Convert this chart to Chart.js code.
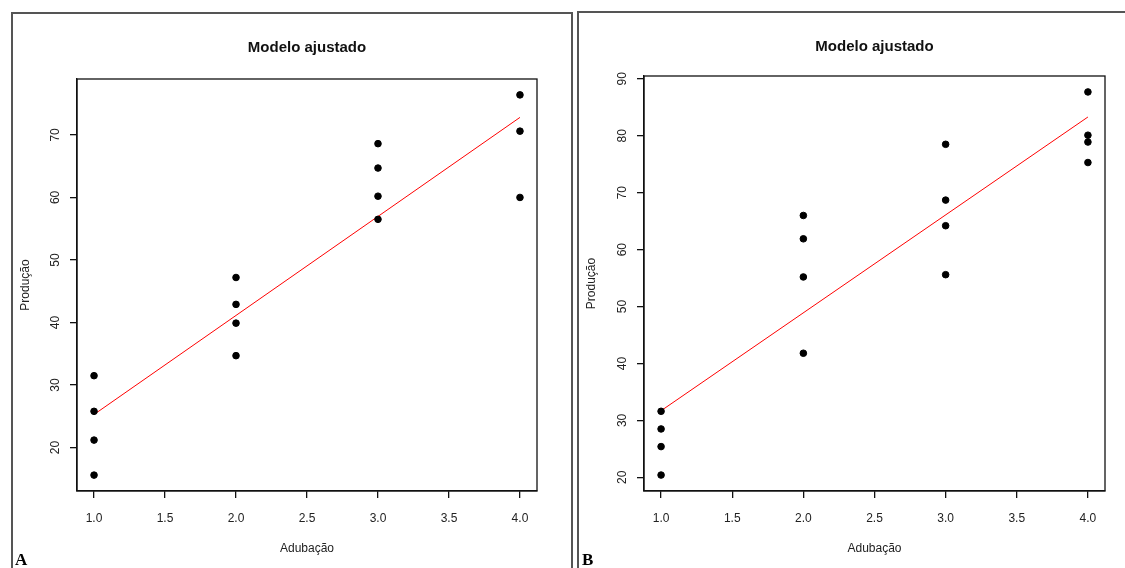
<!DOCTYPE html>
<html>
<head>
<meta charset="utf-8">
<title>Modelo ajustado</title>
<script src="https://cdn.jsdelivr.net/npm/chart.js"></script>
<style>
  body { margin: 0; background: white; width: 1125px; height: 568px; overflow: hidden; position: relative; font-family: "Liberation Sans", Arial, sans-serif; }
  .panel { position: absolute; border-left: 2px solid #555; border-top: 2px solid #555; box-sizing: border-box; }
  #panelA { left: 11px; top: 12px; width: 562px; height: 560px; border-right: 2px solid #555; }
  #panelB { left: 577px; top: 11px; width: 552px; height: 560px; }
  .panel canvas { position: absolute; left: 0; top: 0; }
  .tag { position: absolute; font: bold 17px "Liberation Serif", "Times New Roman", serif; color: #000; }
</style>
</head>
<body>
<div class="panel" id="panelA"><canvas id="chartA" width="560" height="556"></canvas></div>
<div class="panel" id="panelB"><canvas id="chartB" width="550" height="557"></canvas></div>
<div class="tag" style="left:15px; top:550px;">A</div>
<div class="tag" style="left:582px; top:550px;">B</div>
<script>
// Panel A data (Adubação x Produção)
const adubacaoA = [1, 1, 1, 1, 2, 2, 2, 2, 3, 3, 3, 3, 4, 4, 4];
const producaoA = [31.5, 25.8, 21.2, 15.6, 47.2, 42.9, 39.9, 34.7, 68.6, 64.7, 60.2, 56.5, 76.4, 70.6, 60.0];
const ajusteXA = [1, 4];
const ajusteYA = [25.3, 72.8];

// Panel B data
const adubacaoB = [1, 1, 1, 1, 2, 2, 2, 2, 3, 3, 3, 3, 4, 4, 4, 4];
const producaoB = [31.6, 28.5, 25.4, 20.4, 66.0, 61.9, 55.2, 41.8, 78.5, 68.7, 64.2, 55.6, 87.7, 80.1, 78.9, 75.3];
const ajusteXB = [1, 4];
const ajusteYB = [31.7, 83.3];

const xTicks = [1.0, 1.5, 2.0, 2.5, 3.0, 3.5, 4.0];
const yTicksA = [20, 30, 40, 50, 60, 70];
const yTicksB = [20, 30, 40, 50, 60, 70, 80, 90];

const TXT = '#222';
const FONT = '"Liberation Sans", Arial, sans-serif';

// R-style box, rotated y tick labels, titles
const rStyle = {
  id: 'rStyle',
  afterDraw(chart, args, opts) {
    const ctx = chart.ctx;
    const a = chart.chartArea;
    const ys = chart.scales.y;
    ctx.save();
    ctx.strokeStyle = '#111';
    ctx.lineWidth = 1.3;
    ctx.strokeRect(a.left, a.top, a.right - a.left, a.bottom - a.top);
    // y tick labels rotated
    ctx.fillStyle = TXT;
    ctx.font = '12px ' + FONT;
    ctx.textAlign = 'center';
    ctx.textBaseline = 'middle';
    ys.ticks.forEach(t => {
      const py = ys.getPixelForValue(t.value);
      ctx.save();
      ctx.translate(a.left - 21, py);
      ctx.rotate(-Math.PI / 2);
      ctx.fillText(String(t.value), 0, 0);
      ctx.restore();
    });
    // main title
    ctx.font = 'bold 15px ' + FONT;
    ctx.fillStyle = '#111';
    ctx.fillText(opts.title, (a.left + a.right) / 2, opts.titleY);
    // axis titles
    ctx.font = '12px ' + FONT;
    ctx.fillStyle = TXT;
    ctx.fillText(opts.xTitle, (a.left + a.right) / 2, opts.xTitleY);
    ctx.save();
    ctx.translate(opts.yTitleX, (a.top + a.bottom) / 2);
    ctx.rotate(-Math.PI / 2);
    ctx.fillText(opts.yTitle, 0, 0);
    ctx.restore();
    ctx.restore();
  }
};

function makeChart(id, xs, ys, fx, fy, yTicks, cfg) {
  const pts = xs.map((x, i) => ({ x: x, y: ys[i] }));
  const fit = fx.map((x, i) => ({ x: x, y: fy[i] }));
  return new Chart(document.getElementById(id), {
    type: 'scatter',
    data: {
      datasets: [
        {
          label: 'Ajuste',
          type: 'line',
          data: fit,
          borderColor: 'rgb(255, 0, 0)',
          borderWidth: 1,
          pointRadius: 0,
          fill: false,
          order: 2
        },
        {
          label: 'Produção',
          data: pts,
          backgroundColor: '#000',
          borderColor: '#000',
          pointRadius: 3.3,
          pointHoverRadius: 3.3,
          order: 1
        }
      ]
    },
    options: {
      responsive: false,
      animation: false,
      events: [],
      layout: { padding: { top: cfg.top, right: cfg.right, bottom: 0, left: 0 } },
      plugins: {
        legend: { display: false },
        tooltip: { enabled: false },
        rStyle: cfg.text
      },
      scales: {
        x: {
          type: 'linear',
          min: cfg.xmin, max: cfg.xmax,
          afterBuildTicks: s => { s.ticks = xTicks.map(v => ({ value: v })); },
          afterFit: s => { s.height = cfg.xh; },
          border: { display: true, color: '#111', width: 1.3 },
          grid: { drawOnChartArea: false, drawTicks: true, tickLength: 7, color: '#111', lineWidth: 1.3 },
          ticks: { color: TXT, font: { family: FONT, size: 12 }, padding: 13, maxRotation: 0,
                   callback: v => Number(v).toFixed(1) }
        },
        y: {
          type: 'linear',
          min: cfg.ymin, max: cfg.ymax,
          afterBuildTicks: s => { s.ticks = yTicks.map(v => ({ value: v })); },
          afterFit: s => { s.width = cfg.yw; },
          border: { display: true, color: '#111', width: 1.3 },
          grid: { drawOnChartArea: false, drawTicks: true, tickLength: 7, color: '#111', lineWidth: 1.3 },
          ticks: { display: false }
        }
      }
    },
    plugins: [rStyle]
  });
}

makeChart('chartA', adubacaoA, producaoA, ajusteXA, ajusteYA, yTicksA, {
  top: 65, right: 36, xh: 79, yw: 64,
  xmin: 0.88, xmax: 4.12, ymin: 13.06, ymax: 78.94,
  text: { title: 'Modelo ajustado', titleY: 34, xTitle: 'Adubação', xTitleY: 535, yTitle: 'Produção', yTitleX: 13 }
});

makeChart('chartB', adubacaoB, producaoB, ajusteXB, ajusteYB, yTicksB, {
  top: 63, right: 24, xh: 79, yw: 65,
  xmin: 0.88, xmax: 4.12, ymin: 17.6, ymax: 90.5,
  text: { title: 'Modelo ajustado', titleY: 34, xTitle: 'Adubação', xTitleY: 536, yTitle: 'Produção', yTitleX: 13 }
});
</script>
</body>
</html>
